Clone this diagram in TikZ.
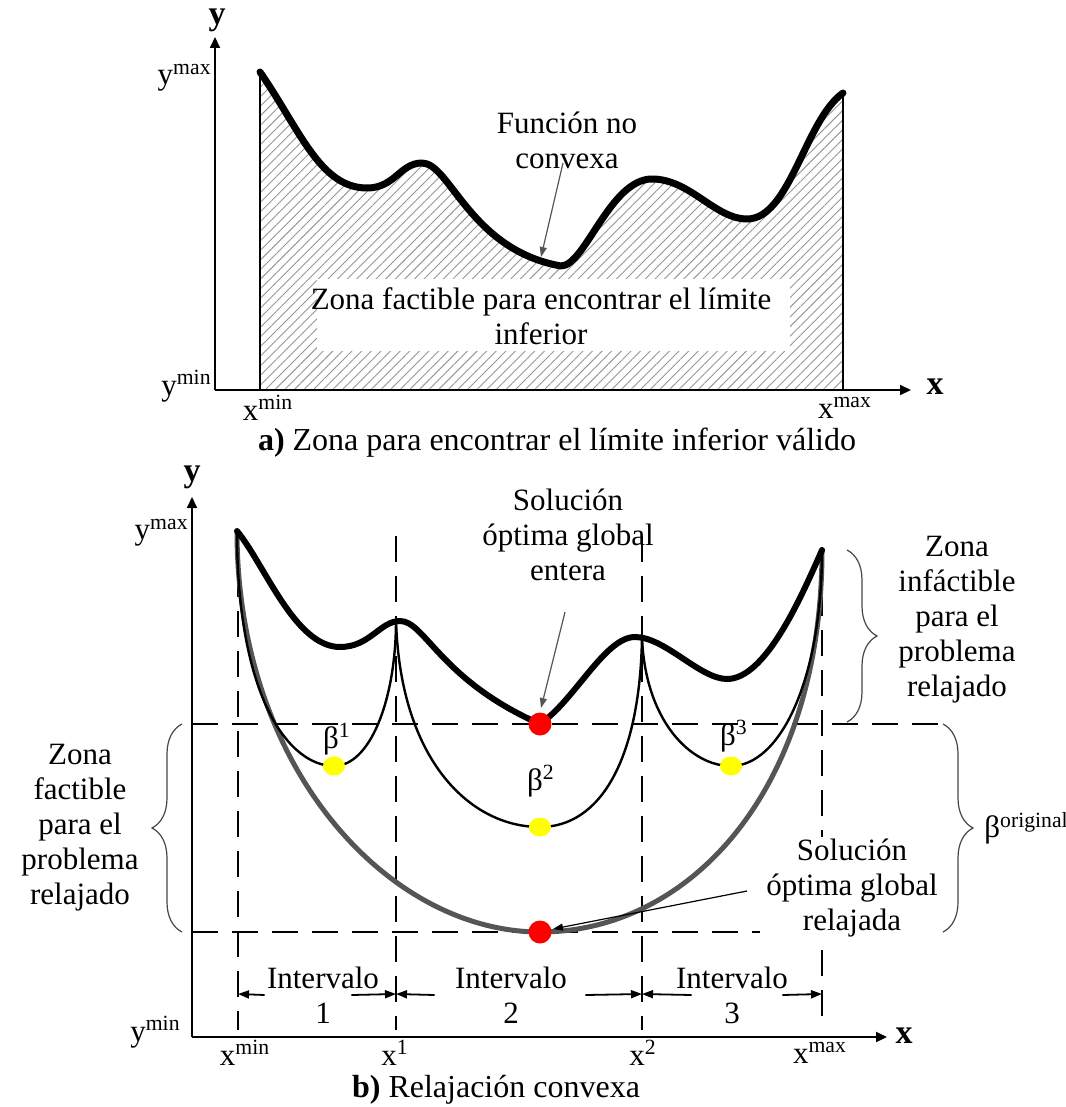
\documentclass[tikz,border=0pt]{standalone}
\usepackage{fontspec}
\setmainfont{Liberation Serif}
\usepackage{tikz}
\usetikzlibrary{arrows.meta,positioning,shapes.geometric,
                decorations.pathreplacing,patterns.meta}
\definecolor{relaxgray}{RGB}{85,85,85}
\definecolor{hatchgray}{RGB}{150,150,150}
\definecolor{bracegray}{RGB}{70,70,70}
\definecolor{optred}   {RGB}{255,0,0}
\definecolor{betayel}  {RGB}{255,255,0}
\tikzset{
  lbl/.style={font=\fontsize{15.5}{17.5}\selectfont,align=center,inner sep=1pt},
  axlbl/.style={font=\fontsize{17}{18}\selectfont\bfseries,inner sep=1pt},
  capt/.style={font=\fontsize{16}{18}\selectfont,inner sep=1pt},
  axisarr/.style={line width=1pt,-{Triangle[length=5.5pt,width=5pt]}},
  dimarr/.style={line width=0.9pt,-{Triangle[length=5.5pt,width=4pt]}},
  callout/.style={line width=0.6pt,color=relaxgray,-{Triangle[length=5pt,width=3.5pt]}},
  callblk/.style={callout,color=black},
  nonconv/.style={line width=3.5pt,line cap=round,line join=round},
  nonconvb/.style={nonconv,line width=3pt},
  convex/.style={line width=1.2pt},
  relaxed/.style={line width=2.5pt,color=relaxgray},
  dashln/.style={line width=0.8pt,dash pattern=on 13pt off 7pt},
  bndline/.style={line width=0.8pt},
  bracel/.style={decorate,decoration={brace,amplitude=15pt},
                 line width=0.6pt,color=bracegray},
  hatch/.style={pattern={Lines[angle=45,distance=3.4pt,line width=0.45pt]},
                pattern color=hatchgray},
  reddot/.style={circle,fill=optred,inner sep=0pt,minimum size=11.5pt},
  yeldot/.style={ellipse,fill=betayel,inner sep=0pt,
                 minimum width=11pt,minimum height=9.5pt},
}
\begin{document}
\begin{tikzpicture}[x=0.5pt,y=-0.5pt]
  \useasboundingbox (0,0) rectangle (1065,1107);

  \coordinate (OA)  at (215,390);
  \coordinate (XA)  at (911,390);
  \coordinate (YA)  at (215,37);
  \coordinate (LA)  at (260,390);
  \coordinate (RA)  at (843,390);
  \coordinate (LAt) at (260,72);
  \coordinate (RAt) at (843,93);

  \path[hatch] (LA) -- (LAt) .. controls (300,130) and (320,188) .. (367,188)
    .. controls (395,188) and (400,163) .. (422,163)
    .. controls (450,163) and (470,250) .. (561,266)
    .. controls (585,266) and (610,179) .. (652,179)
    .. controls (690,179) and (715,219) .. (747,219)
    .. controls (790,219) and (805,120) .. (RAt) -- (RA) -- cycle;
  \fill[white] (317,279) rectangle (790,351);
  \node[lbl] (zonaA) at (541,316) {Zona factible para encontrar el límite\\inferior};
  \draw[bndline] (LA) -- (LAt);
  \draw[bndline] (RA) -- (RAt);
  \draw[nonconv] (LAt) .. controls (300,130) and (320,188) .. (367,188)
    .. controls (395,188) and (400,163) .. (422,163)
    .. controls (450,163) and (470,250) .. (561,266)
    .. controls (585,266) and (610,179) .. (652,179)
    .. controls (690,179) and (715,219) .. (747,219)
    .. controls (790,219) and (805,120) .. (RAt);
  \draw[axisarr] (OA) -- (XA);
  \draw[axisarr] (OA) -- (YA);
  \node[axlbl] (ylA) at (217,20) {y};
  \node[axlbl] (xlA) at (935,387) {x};
  \node[lbl,anchor=east] (ymaxA) at (214,78) {y\textsuperscript{max}};
  \node[lbl,anchor=east] (yminA) at (214,386) {y\textsuperscript{min}};
  \node[lbl] (xminA) at (268,408) {x\textsuperscript{min}};
  \node[lbl] (xmaxA) at (845,408) {x\textsuperscript{max}};
  \node[lbl] (funcA) at (567,140) {Función no\\convexa};
  \coordinate (funcT) at (563,163);
  \coordinate (funcH) at (541,257);
  \draw[callout] (funcT) -- (funcH);
  \node[capt] (captA) at (557,443) {\textbf{a)} Zona para encontrar el límite inferior válido};

  \coordinate (OB)   at (192,1037);
  \coordinate (XB)   at (887,1037);
  \coordinate (YB)   at (192,497);
  \coordinate (P0)   at (237,531);
  \coordinate (P1)   at (396,620);
  \coordinate (P2)   at (642,637);
  \coordinate (P3)   at (822,550);
  \coordinate (B1)   at (334,766);
  \coordinate (B2)   at (540,827);
  \coordinate (B3)   at (731,766);
  \coordinate (OPTi) at (540,724);
  \coordinate (OPTr) at (540,932);
  \coordinate (T0)   at (238,994);
  \coordinate (T1)   at (396,994);
  \coordinate (T2)   at (642,994);
  \coordinate (T3)   at (822,994);

  \draw[dashln] (192,724) -- (943,724);
  \draw[dashln] (192,932) -- (943,932);
  \foreach \xv/\yt in {238/531,396/536,642/536,822/550}
    \draw[dashln] (\xv,\yt) -- (\xv,1030);

  \draw[relaxed] (P0) .. controls (237,770) and (390,932) .. (OPTr)
                      .. controls (690,932) and (822,790) .. (P3);
  \draw[convex] (P0) .. controls (237,700) and (290,766) .. (B1)
                     .. controls (370,766) and (396,700) .. (P1);
  \draw[convex] (P1) .. controls (400,760) and (470,827) .. (B2)
                     .. controls (600,827) and (640,760) .. (P2);
  \draw[convex] (P2) .. controls (645,720) and (690,766) .. (B3)
                     .. controls (780,766) and (822,680) .. (P3);
  \draw[nonconvb] (P0) .. controls (265,565) and (295,647) .. (340,647)
    .. controls (370,647) and (380,621) .. (400,621)
    .. controls (425,621) and (440,680) .. (OPTi)
    .. controls (575,700) and (605,637) .. (635,637)
    .. controls (665,637) and (700,679) .. (727,679)
    .. controls (765,679) and (800,600) .. (P3);

  \node[yeldot] (b1) at (B1) {};
  \node[yeldot] (b2) at (B2) {};
  \node[yeldot] (b3) at (B3) {};
  \node[reddot] (opti) at (OPTi) {};
  \node[reddot] (optr) at (OPTr) {};
  \node[lbl] (b1l) at (337,739) {β\textsuperscript{1}};
  \node[lbl] (b2l) at (541,781) {β\textsuperscript{2}};
  \node[lbl] (b3l) at (734,736) {β\textsuperscript{3}};

  \draw[axisarr] (OB) -- (XB);
  \draw[axisarr] (OB) -- (YB);
  \node[axlbl] (ylB) at (192,477) {y};
  \node[axlbl] (xlB) at (904,1036) {x};
  \node[lbl,anchor=east] (ymaxB) at (191,533) {y\textsuperscript{max}};
  \node[lbl,anchor=east] (yminB) at (183,1032) {y\textsuperscript{min}};
  \node[lbl] (xminB) at (245,1053) {x\textsuperscript{min}};
  \node[lbl] (x1B) at (395,1053) {x\textsuperscript{1}};
  \node[lbl] (x2B) at (643,1053) {x\textsuperscript{2}};
  \node[lbl] (xmaxB) at (820,1053) {x\textsuperscript{max}};

  \node[lbl] (solE) at (568,535) {Solución\\óptima global\\entera};
  \coordinate (solEt) at (565,612);
  \coordinate (solEh) at (541,708);
  \draw[callout] (solEt) -- (solEh);
  \node[lbl] (infz) at (957,620) {Zona\\infáctible\\para el\\problema\\relajado};
  \node[lbl] (facz) at (80,828) {Zona\\factible\\para el\\problema\\relajado};
  \node[lbl,fill=white,inner xsep=3pt] (solR) at (852,888)
    {Solución\\óptima global\\relajada};
  \coordinate (solRt) at (747,891);
  \coordinate (solRh) at (553,929);
  \draw[callblk] (solRt) -- (solRh);
  \node[lbl,anchor=west] (borig) at (982,828) {β\textsuperscript{original}};

  \draw[bracel] (847,550) -- (847,722);
  \draw[bracel] (182,932) -- (182,724);
  \draw[bracel] (943,724) -- (943,932);

  \node[lbl] (int1) at (323,995) {Intervalo\\1};
  \node[lbl] (int2) at (511,995) {Intervalo\\2};
  \node[lbl] (int3) at (732,995) {Intervalo\\3};
  \draw[dimarr] (int1.west) -- (T0);
  \draw[dimarr] ([xshift=-15pt]int1.east) -- (T1);
  \draw[dimarr] ([xshift=-9pt]int2.west) -- (T1);
  \draw[dimarr] ([xshift=8pt]int2.east) -- (T2);
  \draw[dimarr] ([xshift=9pt]int3.west) -- (T2);
  \draw[dimarr] ([xshift=-4pt]int3.east) -- (T3);

  \node[capt] (captB) at (496,1090) {\textbf{b)} Relajación convexa};
\end{tikzpicture}
\end{document}
